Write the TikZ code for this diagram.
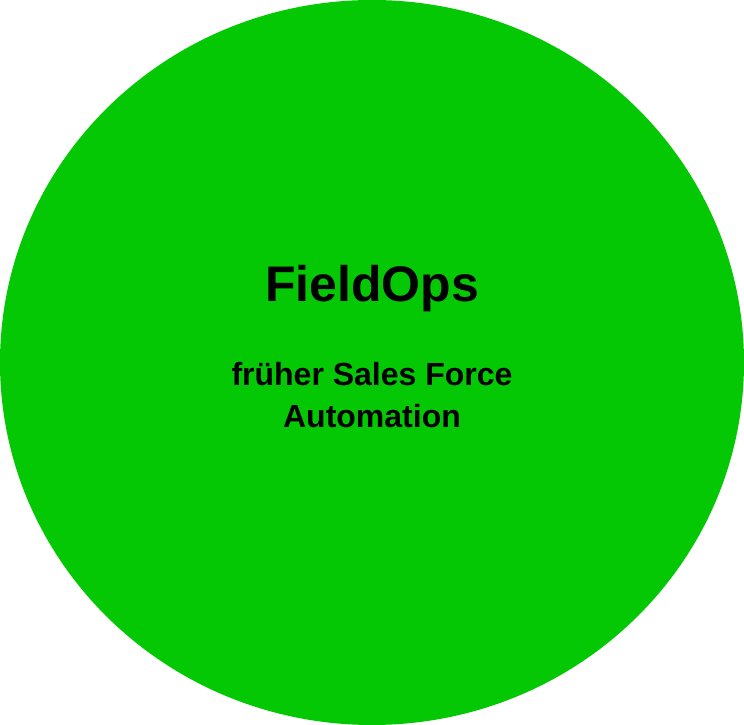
\documentclass[tikz,border=0pt]{standalone}
\usepackage{fontspec}
\setmainfont{Liberation Sans}
\usetikzlibrary{shapes.geometric}

\definecolor{feldgruen}{RGB}{4,200,4}

\begin{document}
\begin{tikzpicture}[x=1pt,y=1pt,
		kreis/.style={ellipse,fill=feldgruen,minimum width=744pt,minimum height=725pt,inner sep=0pt},
		titel/.style={font=\bfseries\fontsize{50}{60}\selectfont,inner sep=0pt},
		untertitel/.style={font=\bfseries\fontsize{32}{42}\selectfont,align=center,inner sep=0pt}]
		% Rahmen
		\useasboundingbox (0,0) rectangle (744,725);
		% Kreis
		\node[kreis] (kreis) at (372,362.5) {};
		
		% Beschriftung
		\node[titel,anchor=base] (name) at (372,423) {FieldOps};
		\node[untertitel] (frueher) at (372,330) {früher Sales Force\\Automation};
	\end{tikzpicture}
\end{document}
